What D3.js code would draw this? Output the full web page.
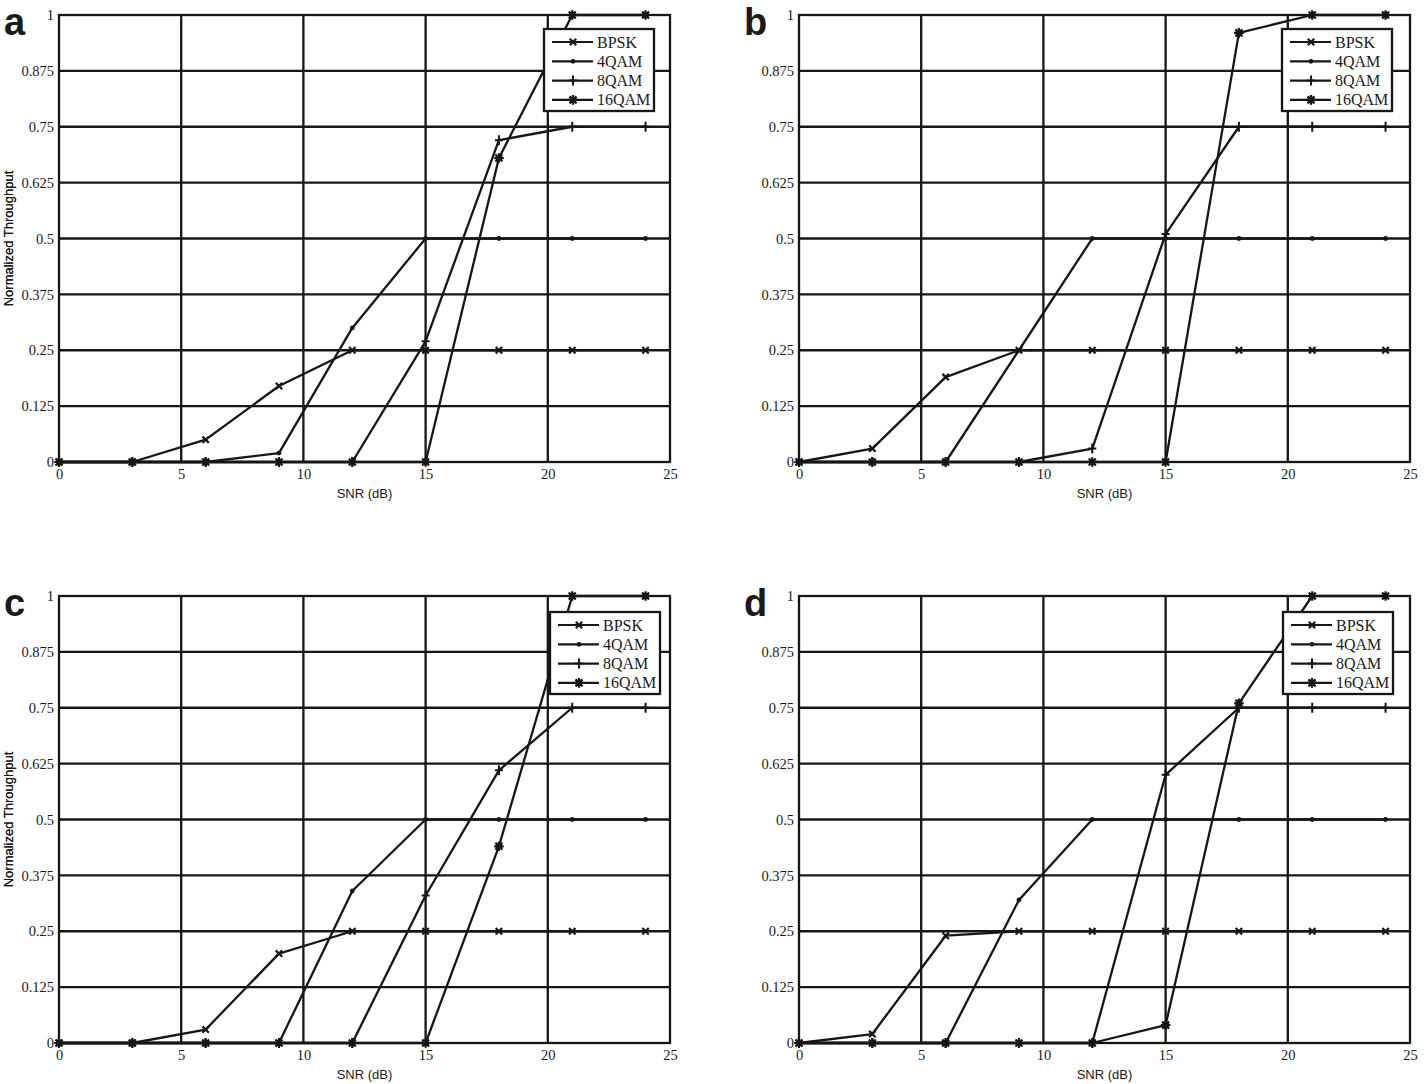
<!DOCTYPE html>
<html>
<head>
<meta charset="utf-8">
<script src="https://cdnjs.cloudflare.com/ajax/libs/d3/7.8.5/d3.min.js"></script>
<style>
  body { margin: 0; background: #fff; }
  .tick text { font-family: "Liberation Serif", "Times New Roman", serif; font-size: 14.5px; fill: #1a1a1a; }
</style>
</head>
<body>
<svg id="chart" width="1424" height="1084"></svg>
<script>
// SNR sample points (dB)
var snr = [0, 3, 6, 9, 12, 15, 18, 21, 24];
var seriesNames = ["BPSK", "4QAM", "8QAM", "16QAM"];
var xTicks = [0, 5, 10, 15, 20, 25];
var yTicks = [0, 0.125, 0.25, 0.375, 0.5, 0.625, 0.75, 0.875, 1];
var yTickLabels = ["0", "0.125", "0.25", "0.375", "0.5", "0.625", "0.75", "0.875", "1"];

// panel a
var bpskA  = [0, 0, 0.05, 0.17, 0.25, 0.25, 0.25, 0.25, 0.25];
var qam4A  = [0, 0, 0, 0.02, 0.30, 0.5, 0.5, 0.5, 0.5];
var qam8A  = [0, 0, 0, 0, 0, 0.27, 0.72, 0.75, 0.75];
var qam16A = [0, 0, 0, 0, 0, 0, 0.68, 1, 1];
// panel b
var bpskB  = [0, 0.03, 0.19, 0.25, 0.25, 0.25, 0.25, 0.25, 0.25];
var qam4B  = [0, 0, 0, 0.25, 0.5, 0.5, 0.5, 0.5, 0.5];
var qam8B  = [0, 0, 0, 0, 0.03, 0.51, 0.75, 0.75, 0.75];
var qam16B = [0, 0, 0, 0, 0, 0, 0.96, 1, 1];
// panel c
var bpskC  = [0, 0, 0.03, 0.20, 0.25, 0.25, 0.25, 0.25, 0.25];
var qam4C  = [0, 0, 0, 0, 0.34, 0.5, 0.5, 0.5, 0.5];
var qam8C  = [0, 0, 0, 0, 0, 0.33, 0.61, 0.75, 0.75];
var qam16C = [0, 0, 0, 0, 0, 0, 0.44, 1, 1];
// panel d
var bpskD  = [0, 0.02, 0.24, 0.25, 0.25, 0.25, 0.25, 0.25, 0.25];
var qam4D  = [0, 0, 0, 0.32, 0.5, 0.5, 0.5, 0.5, 0.5];
var qam8D  = [0, 0, 0, 0, 0, 0.60, 0.75, 0.75, 0.75];
var qam16D = [0, 0, 0, 0, 0, 0.04, 0.76, 1, 1];

var panels = [
  {label: "a", left: 59,  top: 15,  legendX: 485, legendY: 14, series: [bpskA, qam4A, qam8A, qam16A]},
  {label: "b", left: 799, top: 15,  legendX: 483, legendY: 14, series: [bpskB, qam4B, qam8B, qam16B]},
  {label: "c", left: 59,  top: 596, legendX: 491, legendY: 16, series: [bpskC, qam4C, qam8C, qam16C]},
  {label: "d", left: 799, top: 596, legendX: 484, legendY: 16, series: [bpskD, qam4D, qam8D, qam16D]}
];

var width = 611, height = 447;
var ink = "#161616";

var svg = d3.select("#chart");

var x = d3.scaleLinear().domain([0, 25]).range([0, width]);
var y = d3.scaleLinear().domain([0, 1]).range([height, 0]);

// draw one marker of a given series at the current group origin
function drawMarker(g, k) {
  if (k === 0) {
    g.append("path").attr("d", "M-3.2,-3.2L3.2,3.2M-3.2,3.2L3.2,-3.2")
      .attr("stroke", ink).attr("stroke-width", 2.2).attr("fill", "none");
  } else if (k === 1) {
    g.append("circle").attr("r", 2.4).attr("fill", ink);
  } else if (k === 2) {
    g.append("path").attr("d", "M-4,0L4,0M0,-5L0,5")
      .attr("stroke", ink).attr("stroke-width", 2).attr("fill", "none");
  } else {
    g.append("path").attr("d", "M-4.8,0L4.8,0M0,-4.8L0,4.8M-3.5,-3.5L3.5,3.5M-3.5,3.5L3.5,-3.5")
      .attr("stroke", ink).attr("stroke-width", 2.2).attr("fill", "none");
    g.append("circle").attr("r", 3.3).attr("fill", ink);
  }
}

panels.forEach(function(p) {
  var chartGroup = svg.append("g")
    .attr("transform", "translate(" + p.left + "," + p.top + ")");

  // grid
  chartGroup.append("g").selectAll("line.vg")
    .data(xTicks.slice(1, -1)).enter().append("line")
      .attr("x1", d => x(d)).attr("x2", d => x(d))
      .attr("y1", 0).attr("y2", height)
      .attr("stroke", ink).attr("stroke-width", 2.3);
  chartGroup.append("g").selectAll("line.hg")
    .data(yTicks.slice(1, -1)).enter().append("line")
      .attr("x1", 0).attr("x2", width)
      .attr("y1", d => y(d)).attr("y2", d => y(d))
      .attr("stroke", ink).attr("stroke-width", 2.3);

  // axes
  var xAxis = chartGroup.append("g")
    .attr("transform", "translate(0," + height + ")")
    .call(d3.axisBottom(x).tickValues(xTicks).tickSize(0).tickPadding(7));
  var yAxis = chartGroup.append("g")
    .call(d3.axisLeft(y).tickValues(yTicks).tickSize(0).tickPadding(5)
      .tickFormat((d, i) => yTickLabels[i]));
  xAxis.select(".domain").remove();
  yAxis.select(".domain").remove();

  // box
  chartGroup.append("rect")
    .attr("x", 0).attr("y", 0).attr("width", width).attr("height", height)
    .attr("fill", "none").attr("stroke", ink).attr("stroke-width", 2.3);

  // lines + markers
  var line = d3.line().x((d, i) => x(snr[i])).y(d => y(d));
  p.series.forEach(function(vals, k) {
    chartGroup.append("path")
      .datum(vals)
      .attr("d", line)
      .attr("fill", "none")
      .attr("stroke", ink)
      .attr("stroke-width", 2.3)
      .attr("stroke-linejoin", "round");
    vals.forEach(function(v, i) {
      var m = chartGroup.append("g")
        .attr("transform", "translate(" + x(snr[i]) + "," + y(v) + ")");
      drawMarker(m, k);
    });
  });

  // legend
  var legend = chartGroup.append("g")
    .attr("transform", "translate(" + p.legendX + "," + p.legendY + ")");
  legend.append("rect")
    .attr("width", 110).attr("height", 82)
    .attr("fill", "#fff").attr("stroke", ink).attr("stroke-width", 2.3);
  seriesNames.forEach(function(name, k) {
    var ly = 13 + k * 19.3;
    legend.append("line")
      .attr("x1", 8).attr("x2", 49).attr("y1", ly).attr("y2", ly)
      .attr("stroke", ink).attr("stroke-width", 2.2);
    var m = legend.append("g").attr("transform", "translate(29," + ly + ")");
    drawMarker(m, k);
    legend.append("text")
      .attr("x", 53).attr("y", ly + 5.5)
      .style("font-family", "'Liberation Serif', 'Times New Roman', serif")
      .style("font-size", "16px")
      .attr("fill", "#1a1a1a")
      .text(name);
  });

  // axis labels
  chartGroup.append("text")
    .attr("x", width / 2).attr("y", height + 36)
    .attr("text-anchor", "middle")
    .style("font-family", "'Liberation Sans', Arial, sans-serif")
    .style("font-size", "13px")
    .attr("fill", "#1a1a1a")
    .text("SNR (dB)");
  chartGroup.append("text")
    .attr("transform", "rotate(-90)")
    .attr("x", -height / 2).attr("y", -p.left + 13)
    .attr("text-anchor", "middle")
    .style("font-family", "'Liberation Sans', Arial, sans-serif")
    .style("font-size", "13px")
    .attr("fill", "#1a1a1a")
    .text("Normalized Throughput");

  // panel letter
  svg.append("text")
    .attr("x", p.left - 55).attr("y", p.top + 20)
    .style("font-family", "'Liberation Sans', Arial, sans-serif")
    .style("font-size", "38px")
    .style("font-weight", "bold")
    .attr("fill", "#1a1a1a")
    .text(p.label);
});
</script>
</body>
</html>
